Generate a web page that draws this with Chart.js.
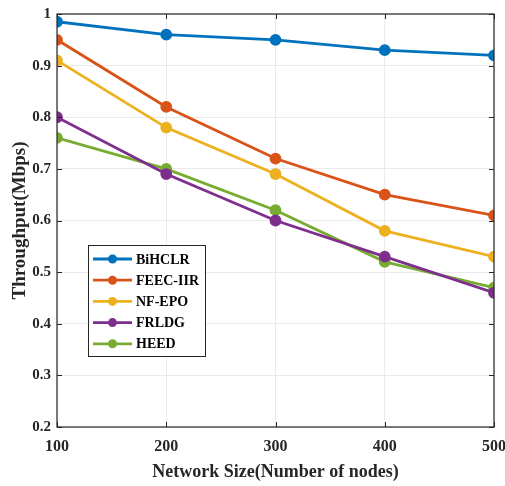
<!DOCTYPE html>
<html>
<head>
<meta charset="utf-8">
<script src="https://cdn.jsdelivr.net/npm/chart.js@4/dist/chart.umd.min.js"></script>
<style>
html,body{margin:0;padding:0;background:#fff;}
canvas{display:block;}
</style>
</head>
<body>
<canvas id="c" width="505" height="486"></canvas>
<script>
const nodes = [100, 200, 300, 400, 500];
const seriesNames = ['BiHCLR', 'FEEC-IIR', 'NF-EPO', 'FRLDG', 'HEED'];
const biHCLR = [0.985, 0.96, 0.95, 0.93, 0.92];
const feecIIR = [0.95, 0.82, 0.72, 0.65, 0.61];
const nfEPO = [0.91, 0.78, 0.69, 0.58, 0.53];
const frldg = [0.80, 0.69, 0.60, 0.53, 0.46];
const heed = [0.76, 0.70, 0.62, 0.52, 0.47];
const yTicks = [0.2, 0.3, 0.4, 0.5, 0.6, 0.7, 0.8, 0.9, 1];
const colors = ['#0072BD', '#D95319', '#EDB120', '#7E2F8E', '#77AC30'];
const allSeries = [biHCLR, feecIIR, nfEPO, frldg, heed];

const FONT = '"Liberation Serif", "Times New Roman", serif';

const datasets = allSeries.map((vals, i) => ({
  label: seriesNames[i],
  data: nodes.map((n, j) => ({x: n, y: vals[j]})),
  borderColor: colors[i],
  backgroundColor: colors[i],
  borderWidth: 2.8,
  pointRadius: 4.5,
  pointHoverRadius: 4.5,
  pointBackgroundColor: colors[i],
  pointBorderColor: colors[i],
  tension: 0
}));

const boxPlugin = {
  id: 'box',
  afterDatasetsDraw(chart) {
    const {ctx, chartArea: a, scales} = chart;
    ctx.save();
    ctx.strokeStyle = '#262626';
    ctx.lineWidth = 1;
    ctx.beginPath();
    nodes.forEach(n => {
      const x = Math.round(scales.x.getPixelForValue(n)) + 0.5;
      ctx.moveTo(x, a.bottom); ctx.lineTo(x, a.bottom - 5);
      ctx.moveTo(x, a.top); ctx.lineTo(x, a.top + 5);
    });
    yTicks.forEach(v => {
      const y = Math.round(scales.y.getPixelForValue(v)) + 0.5;
      ctx.moveTo(a.left, y); ctx.lineTo(a.left + 5, y);
      ctx.moveTo(a.right, y); ctx.lineTo(a.right - 5, y);
    });
    ctx.stroke();
    ctx.lineWidth = 1.2;
    ctx.strokeRect(a.left, a.top, a.right - a.left, a.bottom - a.top);

    // legend
    const lx = 88, ly = 245, lw = 117, lh = 111;
    ctx.fillStyle = '#fff';
    ctx.fillRect(lx, ly, lw, lh);
    ctx.strokeStyle = '#262626';
    ctx.lineWidth = 1;
    ctx.strokeRect(lx + 0.5, ly + 0.5, lw, lh);
    ctx.font = 'bold 14px ' + FONT;
    ctx.textBaseline = 'middle';
    ctx.textAlign = 'left';
    chart.data.datasets.forEach((ds, i) => {
      const y = ly + 14 + i * 21.2;
      ctx.strokeStyle = ds.borderColor;
      ctx.lineWidth = 2.8;
      ctx.beginPath();
      ctx.moveTo(93, y); ctx.lineTo(132, y);
      ctx.stroke();
      ctx.fillStyle = ds.borderColor;
      ctx.beginPath();
      ctx.arc(112.5, y, 4.5, 0, Math.PI * 2);
      ctx.fill();
      ctx.fillStyle = '#000';
      ctx.fillText(ds.label, 136, y + 1);
    });
    ctx.restore();
  }
};

new Chart(document.getElementById('c'), {
  type: 'line',
  data: { datasets },
  options: {
    responsive: false,
    animation: false,
    layout: { padding: { left: 0, right: 11, top: 14, bottom: 0 } },
    plugins: { legend: { display: false }, tooltip: { enabled: false } },
    scales: {
      x: {
        type: 'linear',
        min: 100, max: 500,
        afterBuildTicks(s) { s.ticks = nodes.map(v => ({value: v})); },
        afterFit(s) { s.height = 59; s.paddingRight = 0; s.paddingLeft = 0; },
        grid: { color: '#ebebeb', drawTicks: false },
        border: { display: false },
        ticks: { color: '#262626', font: { family: FONT, size: 16, weight: 'bold' }, padding: 10, maxRotation: 0 },
        title: { display: true, text: 'Network Size(Number of nodes)', color: '#262626', font: { family: FONT, size: 18, weight: 'bold' }, padding: { top: 0, bottom: 3 } }
      },
      y: {
        min: 0.2, max: 1,
        afterBuildTicks(s) { s.ticks = yTicks.map(v => ({value: v})); },
        afterFit(s) { s.width = 57; s.paddingTop = 0; s.paddingBottom = 0; },
        grid: { color: '#ebebeb', drawTicks: false },
        border: { display: false },
        ticks: { color: '#262626', font: { family: FONT, size: 15, weight: 'bold' }, padding: 6,
          callback: v => String(Math.round(v * 10) / 10) },
        title: { display: true, text: 'Throughput(Mbps)', color: '#262626', font: { family: FONT, size: 19, weight: 'bold' }, padding: { top: 9, bottom: 0 } }
      }
    }
  },
  plugins: [boxPlugin]
});
</script>
</body>
</html>
